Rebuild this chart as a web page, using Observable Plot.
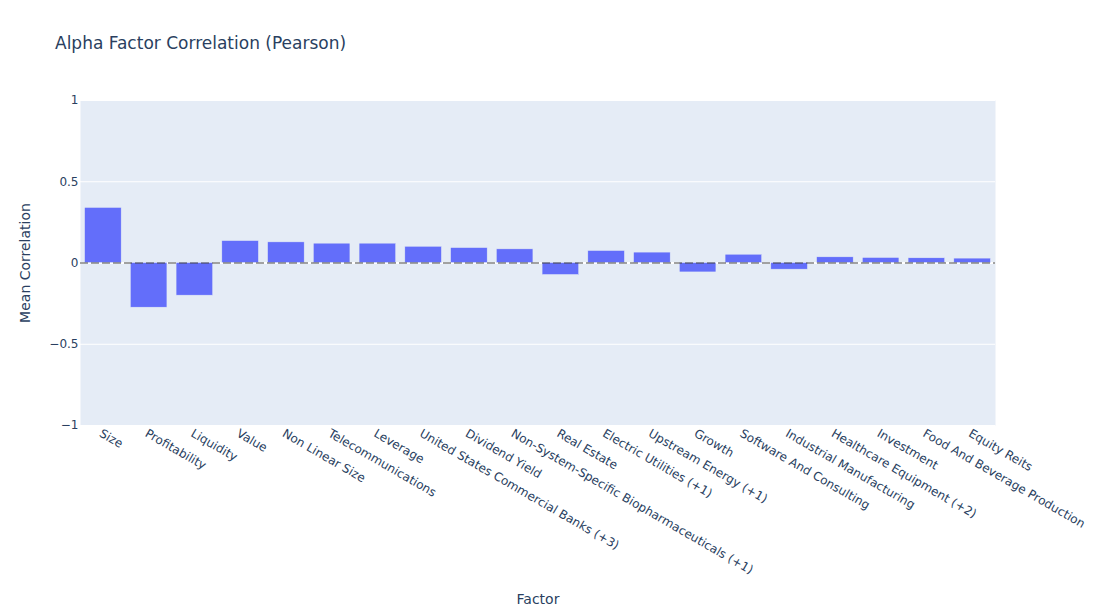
<!DOCTYPE html>
<html>
<head>
<meta charset="utf-8">
<script src="https://cdn.jsdelivr.net/npm/d3@7"></script>
<script src="https://cdn.jsdelivr.net/npm/@observablehq/plot@0.6"></script>
<style>
  html, body { margin: 0; padding: 0; background: #fff; }
  #wrap { position: relative; width: 1100px; height: 616px; font-family: "DejaVu Sans", verdana, arial, sans-serif; }
  #title { position: absolute; left: 55px; top: 33px; font-size: 17px; color: #2a3f5f; white-space: nowrap; }
  #chart { position: absolute; left: 0; top: 0; }
</style>
</head>
<body>
<div id="wrap">
  <div id="chart"></div>
  <div id="title">Alpha Factor Correlation (Pearson)</div>
</div>
<script>
const factors = [
  "Size", "Profitability", "Liquidity", "Value", "Non Linear Size",
  "Telecommunications", "Leverage", "United States Commercial Banks (+3)",
  "Dividend Yield", "Non-System-Specific Biopharmaceuticals (+1)", "Real Estate",
  "Electric Utilities (+1)", "Upstream Energy (+1)", "Growth", "Software And Consulting",
  "Industrial Manufacturing", "Healthcare Equipment (+2)", "Investment",
  "Food And Beverage Production", "Equity Reits"
];
const meanCorrelation = [
  0.339, -0.275, -0.201, 0.135, 0.127,
  0.119, 0.119, 0.100,
  0.092, 0.084, -0.074,
  0.074, 0.064, -0.058, 0.051,
  -0.041, 0.035, 0.031,
  0.029, 0.027
];
const yTicks = [-1, -0.5, 0, 0.5, 1];

const data = factors.map((f, i) => ({factor: f, value: meanCorrelation[i]}));
const fontColor = "#2a3f5f";

const chart = Plot.plot({
  width: 1100,
  height: 616,
  marginTop: 100,
  marginBottom: 191,
  marginLeft: 80,
  marginRight: 105,
  style: {fontFamily: '"DejaVu Sans", verdana, arial, sans-serif', fontSize: "12px", color: fontColor, background: "transparent"},
  x: {domain: factors, paddingInner: 0.2, paddingOuter: 0.1, align: 0.5, round: false},
  y: {domain: [-1, 1]},
  marks: [
    Plot.frame({fill: "#E5ECF6", stroke: null}),
    Plot.gridY(yTicks, {stroke: "#fff", strokeOpacity: 1, strokeWidth: 1}),
    Plot.ruleY([0], {stroke: "#fff", strokeWidth: 2}),
    Plot.barY(data, {x: "factor", y: "value", fill: "#636efa", stroke: "#E5ECF6", strokeWidth: 0.5}),
    Plot.ruleY([0], {stroke: "#444", strokeWidth: 1, strokeDasharray: "8,3"}),
    Plot.axisY({ticks: yTicks, tickSize: 0, tickPadding: 2, fontSize: 12, tickFormat: d3.format(""), label: null}),
    Plot.axisY({ticks: [], label: "Mean Correlation", labelAnchor: "center", labelArrow: "none", labelOffset: 60, fontSize: 14}),
    Plot.axisX({tickSize: 0, tickPadding: 7, tickRotate: 30, textAnchor: "start", fontSize: 12, dx: -3, label: null}),
    Plot.axisX({ticks: [], label: "Factor", labelAnchor: "center", labelArrow: "none", labelOffset: 178, fontSize: 14})
  ]
});
document.getElementById("chart").appendChild(chart);
</script>
</body>
</html>
